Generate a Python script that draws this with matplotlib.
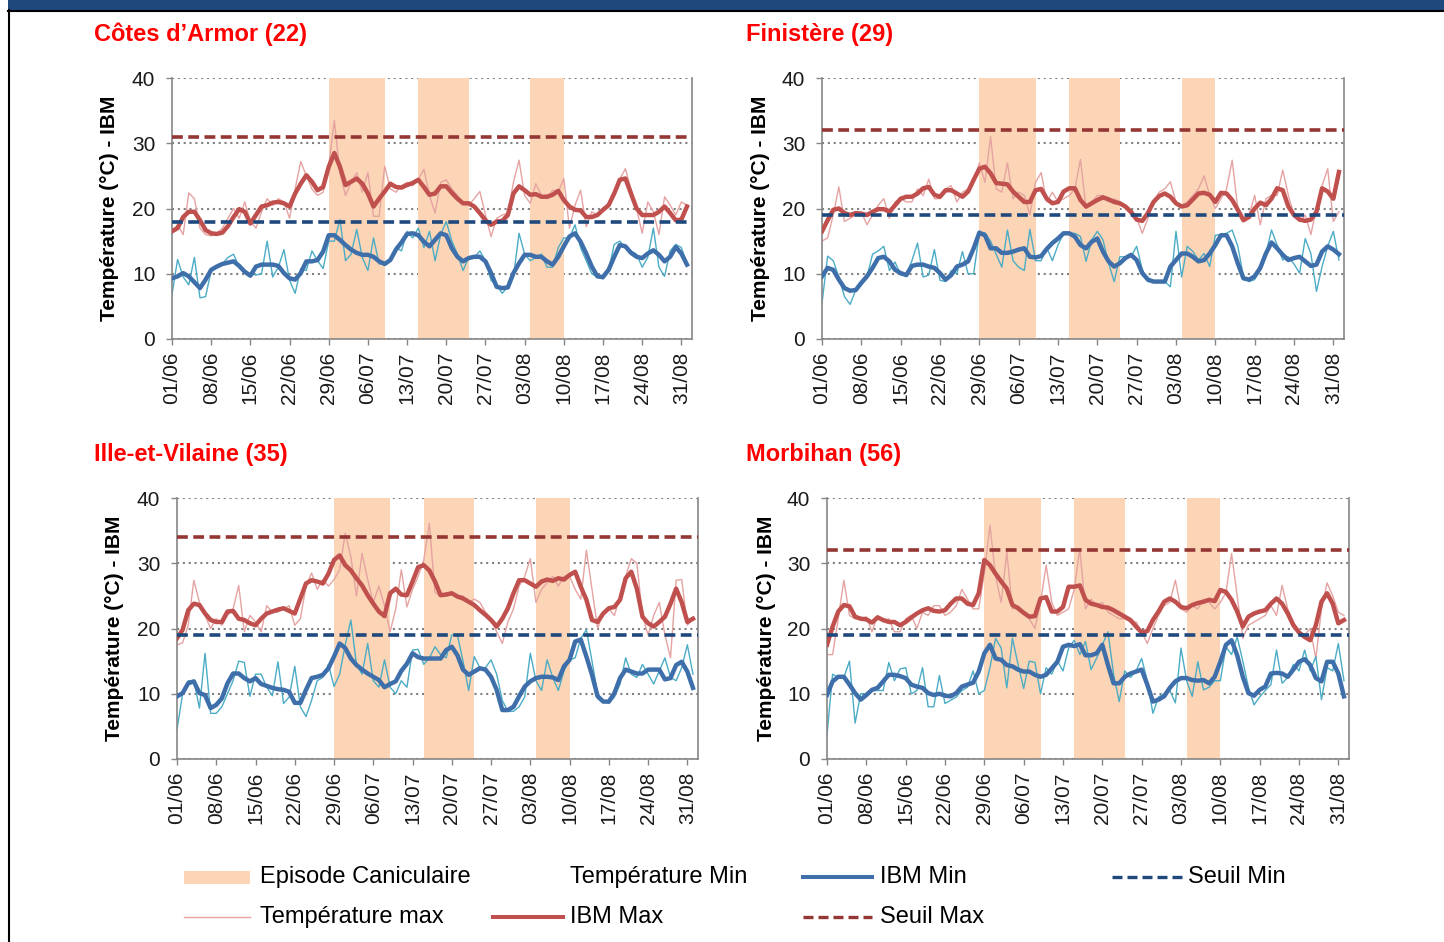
import numpy as np
import pandas as pd
import matplotlib
matplotlib.use('Agg')
import matplotlib.pyplot as plt
from matplotlib.lines import Line2D
from matplotlib.patches import Rectangle

plt.rcParams['font.family'] = ['Liberation Sans', 'DejaVu Sans']

# daily series, 01/06 -> 02/09
dates = pd.date_range('2006-06-01', periods=93, freq='D')

# episodes caniculaires (day index from 01/06)
episode_start = [28, 44, 64]
episode_end = [38, 53, 70]

# --- Cotes d'Armor (22)
p22_seuil_min, p22_seuil_max = 18, 31
p22_ibm_max = [16.5, 17.0, 18.7, 19.5, 19.5, 18.2, 16.7, 16.2, 16.1, 16.3,
               17.3, 18.7, 19.9, 19.5, 17.7, 19.0, 20.3, 20.5, 20.9, 21.0,
               20.8, 20.3, 22.3, 23.8, 25.1, 24.1, 22.8, 23.3, 26.4, 28.5,
               26.4, 23.6, 24.1, 24.6, 23.8, 22.3, 20.3, 21.5, 22.6, 23.8,
               23.3, 23.2, 23.6, 23.9, 24.4, 23.3, 22.1, 22.3, 23.4, 23.4,
               22.4, 21.5, 20.8, 20.8, 20.3, 19.3, 18.2, 17.5, 18.0, 18.1,
               19.0, 22.3, 23.4, 22.8, 22.1, 22.2, 21.8, 21.8, 22.1, 22.7,
               21.3, 20.3, 19.8, 19.7, 18.7, 18.7, 19.0, 19.8, 20.5, 22.3,
               24.4, 24.6, 22.3, 20.0, 19.0, 19.0, 19.0, 19.5, 20.3, 19.3,
               18.2, 18.3, 20.3]
p22_tmax = [16.5, 17.5, 16.0, 22.4, 21.5, 17.0, 16.0, 15.8, 16.2, 17.0,
            18.5, 20.0, 18.5, 21.0, 18.0, 17.0, 19.5, 21.5, 20.5, 21.5,
            21.0, 18.5, 23.0, 27.2, 25.0, 23.0, 22.0, 22.5, 26.5, 33.5,
            25.5, 22.0, 24.0, 25.5, 22.5, 25.5, 18.8, 18.8, 26.5, 23.0,
            22.5, 23.5, 24.0, 23.5, 24.5, 26.0, 22.0, 19.3, 24.0, 24.4,
            23.0, 22.0, 21.0, 20.5, 21.5, 22.6, 19.0, 15.7, 18.5, 19.0,
            19.3, 24.0, 27.4, 22.0, 20.8, 23.8, 22.0, 21.5, 22.8, 22.5,
            24.6, 17.0, 20.5, 22.8, 17.2, 19.5, 19.0, 20.0, 20.5, 22.5,
            24.5, 26.1, 23.0, 20.0, 16.2, 21.0, 19.5, 16.0, 21.8, 20.5,
            19.0, 21.0, 20.5]
p22_ibm_min = [9.3, 9.6, 10.1, 9.6, 8.7, 7.8, 9.1, 10.6, 11.1, 11.5,
               11.7, 11.9, 11.2, 10.3, 9.7, 11.1, 11.4, 11.4, 11.4, 11.2,
               10.1, 9.3, 9.1, 10.1, 11.9, 11.9, 12.1, 13.4, 15.9, 15.9,
               15.2, 14.4, 13.7, 13.2, 12.9, 12.9, 12.6, 11.9, 11.5, 12.1,
               13.7, 14.8, 16.1, 16.2, 15.9, 14.9, 14.2, 15.2, 16.2, 15.9,
               13.9, 12.6, 11.9, 12.4, 12.6, 12.6, 11.9, 10.1, 8.0, 7.8,
               7.9, 10.1, 11.6, 12.9, 12.9, 12.6, 12.6, 11.9, 11.4, 12.6,
               14.2, 15.7, 16.2, 14.9, 13.1, 11.1, 9.6, 9.5, 10.6, 12.6,
               14.4, 14.2, 13.2, 12.6, 12.4, 13.1, 13.6, 12.9, 11.9, 12.6,
               14.1, 13.1, 11.4]
p22_tmin = [6.8, 12.2, 9.5, 8.3, 12.5, 6.3, 6.5, 10.5, 11.0, 11.5,
            12.5, 13.0, 11.0, 10.5, 10.0, 9.8, 10.0, 15.0, 9.5, 11.0,
            13.7, 9.0, 7.0, 10.8, 10.5, 13.5, 12.0, 10.8, 15.0, 15.0,
            18.3, 12.0, 13.0, 16.8, 12.5, 10.5, 15.5, 11.5, 11.5, 12.0,
            14.0, 13.5, 16.5, 15.5, 17.0, 14.0, 16.5, 12.0, 16.0, 18.0,
            15.0, 13.0, 10.5, 12.5, 12.5, 13.5, 12.0, 9.0, 8.2, 7.0,
            8.0, 9.5, 16.2, 13.0, 12.0, 12.5, 13.0, 11.0, 11.0, 14.0,
            15.5, 15.5, 17.5, 14.0, 12.0, 10.0, 9.5, 9.2, 10.5, 14.5,
            15.0, 14.0, 13.5, 13.0, 11.0, 12.5, 17.0, 11.0, 9.6, 13.5,
            14.5, 14.0, 11.5]

# --- Finistere (29)
p29_seuil_min, p29_seuil_max = 19, 32
p29_ibm_max = [16.5, 18.2, 19.8, 20.0, 19.3, 19.0, 19.3, 19.2, 19.0, 19.5,
               19.9, 19.9, 19.5, 20.5, 21.5, 21.8, 21.8, 22.3, 23.1, 23.3,
               22.1, 21.8, 22.8, 22.8, 22.3, 21.8, 22.6, 24.4, 26.1, 26.4,
               25.4, 23.9, 23.8, 23.7, 22.6, 21.8, 21.0, 21.0, 22.8, 23.0,
               21.5, 20.8, 21.0, 22.6, 23.1, 23.1, 21.3, 20.3, 20.8, 21.3,
               21.7, 21.4, 21.0, 20.8, 20.3, 19.5, 18.3, 18.1, 19.3, 21.0,
               21.9, 22.3, 21.8, 20.8, 20.3, 20.5, 21.4, 22.3, 22.4, 22.1,
               21.0, 22.4, 22.3, 21.3, 19.8, 18.2, 18.7, 20.0, 20.9, 20.5,
               21.5, 23.1, 22.8, 20.3, 19.0, 18.3, 18.1, 18.3, 19.5, 23.1,
               22.6, 21.5, 25.6]
p29_tmax = [15.0, 15.5, 19.0, 23.3, 18.0, 18.5, 19.0, 19.5, 17.5, 19.0,
            20.5, 21.5, 18.5, 21.0, 21.5, 21.0, 21.0, 23.0, 22.0, 24.5,
            21.5, 21.5, 23.0, 23.5, 21.0, 22.5, 23.0, 24.0, 27.0, 24.0,
            31.0, 23.0, 22.5, 27.0, 21.5, 22.5, 22.0, 19.0, 24.0, 25.5,
            21.0, 22.5, 21.0, 21.5, 22.0, 23.0, 27.5, 20.0, 21.0, 22.0,
            22.0, 21.0, 21.5, 21.0, 20.0, 19.0, 18.5, 16.2, 18.5, 21.0,
            22.5, 23.0, 24.1, 21.0, 20.5, 21.0, 22.0, 23.0, 25.0, 22.0,
            20.0, 21.5, 23.0, 27.4, 20.0, 18.0, 19.0, 22.0, 17.5, 21.5,
            22.0, 22.0, 25.9, 22.0, 19.0, 18.0, 19.0, 16.0, 20.0, 23.5,
            26.1, 18.0, 19.5]
p29_ibm_min = [9.6, 10.9, 10.6, 9.1, 7.8, 7.4, 7.5, 8.6, 9.6, 10.9,
               12.4, 12.6, 11.9, 10.6, 10.1, 9.8, 11.2, 11.4, 11.4, 11.1,
               10.9, 10.1, 9.1, 9.8, 11.1, 11.4, 11.9, 13.9, 16.3, 15.9,
               13.9, 13.9, 13.2, 13.2, 13.4, 13.7, 13.9, 12.6, 12.5, 12.7,
               13.8, 14.7, 15.4, 16.2, 16.2, 15.7, 14.4, 13.9, 14.9, 15.4,
               13.4, 11.9, 11.1, 11.6, 12.4, 12.9, 12.1, 10.1, 9.1, 8.8,
               8.8, 8.8, 11.1, 12.1, 13.1, 13.1, 12.6, 11.9, 12.1, 13.1,
               14.4, 15.9, 15.9, 14.2, 11.6, 9.3, 9.1, 9.6, 10.9, 13.1,
               14.8, 13.9, 12.9, 12.1, 12.4, 12.6, 11.9, 11.2, 11.4, 13.4,
               14.2, 13.7, 13.0]
p29_tmin = [5.5, 12.7, 12.0, 9.5, 6.5, 5.3, 7.5, 8.5, 9.5, 13.0,
            13.5, 14.2, 10.5, 11.8, 9.8, 9.8, 12.0, 14.7, 9.5, 9.8,
            13.7, 9.0, 8.8, 10.5, 10.0, 13.4, 10.0, 10.0, 16.3, 16.3,
            15.0, 13.0, 11.0, 16.7, 12.0, 11.0, 10.5, 16.8, 12.0, 12.0,
            14.0, 12.0, 14.4, 16.2, 16.2, 16.2, 15.7, 11.9, 15.2, 16.5,
            15.2, 11.6, 8.8, 12.6, 12.6, 12.6, 14.2, 10.6, 8.8, 8.8,
            8.8, 8.8, 8.0, 16.5, 9.5, 14.2, 13.4, 12.1, 13.1, 11.1,
            15.9, 16.0, 16.2, 16.7, 14.2, 9.6, 8.8, 9.1, 11.0, 13.1,
            16.7, 14.4, 12.1, 12.6, 11.5, 10.1, 15.4, 13.1, 7.3, 11.1,
            14.2, 16.5, 12.1]

# --- Ille-et-Vilaine (35)
p35_seuil_min, p35_seuil_max = 19, 34
p35_ibm_max = [18.5, 19.8, 22.8, 23.8, 23.6, 22.3, 21.3, 21.0, 21.0, 22.6,
               22.7, 21.5, 21.3, 20.8, 20.5, 21.5, 22.3, 22.6, 22.9, 23.1,
               22.7, 22.3, 24.6, 26.9, 27.4, 27.2, 26.9, 28.4, 30.5, 31.2,
               29.7, 28.9, 27.7, 26.6, 25.1, 23.8, 22.6, 21.9, 25.4, 26.1,
               25.2, 25.1, 27.2, 29.4, 29.7, 28.9, 27.2, 25.1, 25.2, 25.4,
               24.9, 24.6, 24.1, 23.6, 22.8, 22.1, 21.3, 20.3, 21.5, 23.1,
               25.4, 27.4, 27.4, 26.9, 26.4, 27.2, 27.5, 27.3, 27.7, 27.5,
               28.2, 28.7, 26.4, 24.4, 21.3, 21.0, 22.3, 23.1, 23.3, 24.4,
               27.7, 28.7, 26.1, 21.8, 20.8, 20.3, 21.0, 21.8, 23.8, 26.1,
               24.0, 21.0, 21.5]
p35_tmax = [17.5, 17.8, 20.5, 27.4, 24.0, 22.0, 20.0, 21.5, 20.5, 22.0,
            23.0, 26.6, 19.5, 22.0, 21.0, 19.5, 23.5, 22.5, 22.5, 23.0,
            23.5, 20.5, 21.5, 26.5, 28.5, 26.0, 27.5, 26.5, 27.5, 29.0,
            34.6, 31.0, 25.0, 31.5, 27.5, 24.0, 26.5, 23.5, 19.5, 23.0,
            29.0, 23.3, 26.0, 28.0, 30.5, 36.1, 25.5, 25.0, 25.5, 25.5,
            25.0, 25.0, 24.0, 24.5, 24.0, 22.5, 21.5, 19.5, 17.7, 21.0,
            23.0, 26.5, 28.0, 30.7, 24.0, 26.0, 27.0, 28.0, 26.5, 28.0,
            28.0, 26.0, 24.5, 32.0, 26.0, 20.0, 22.5, 23.0, 22.0, 25.0,
            28.0, 30.7, 30.0, 22.0, 19.0, 22.0, 24.0, 19.0, 15.5, 27.4,
            27.5, 20.5, 21.5]
p35_ibm_min = [9.6, 10.1, 11.6, 11.9, 10.1, 9.8, 7.8, 8.3, 9.3, 11.6,
               13.1, 13.1, 12.4, 11.9, 12.4, 11.5, 11.2, 10.9, 10.7, 10.6,
               10.3, 8.6, 8.6, 10.6, 12.4, 12.6, 12.9, 13.9, 15.7, 17.7,
               17.0, 15.4, 14.4, 13.7, 13.1, 12.6, 12.1, 11.0, 11.5, 11.9,
               13.5, 14.6, 16.2, 15.6, 15.4, 15.4, 15.4, 15.4, 16.7, 17.2,
               15.9, 13.7, 12.9, 13.4, 13.9, 13.7, 12.6, 10.6, 7.5, 7.5,
               8.0, 9.6, 11.1, 11.9, 12.4, 12.6, 12.6, 12.5, 12.1, 14.2,
               15.2, 18.0, 18.3, 15.7, 12.9, 9.6, 8.8, 8.8, 10.1, 12.4,
               13.7, 13.4, 13.1, 13.1, 13.7, 13.7, 13.7, 12.2, 12.4, 14.4,
               14.9, 13.4, 10.9]
p35_tmin = [4.5, 10.0, 12.0, 12.0, 7.8, 16.2, 7.0, 7.0, 8.0, 10.0,
            12.0, 15.0, 14.8, 9.6, 13.0, 13.0, 11.0, 9.7, 14.9, 8.5,
            9.5, 14.2, 8.0, 6.5, 9.0, 12.0, 12.5, 14.5, 11.1, 13.0,
            17.5, 21.3, 14.5, 13.0, 17.7, 12.0, 11.0, 15.2, 11.0, 10.0,
            12.0, 11.0, 16.7, 16.8, 14.5, 15.5, 17.2, 16.0, 15.5, 19.0,
            19.0, 15.0, 10.5, 15.7, 14.0, 14.0, 15.2, 13.0, 9.0, 7.3,
            7.3, 8.0, 9.5, 16.2, 12.0, 10.5, 15.2, 12.5, 10.5, 13.5,
            15.2, 15.5, 18.5, 19.8, 15.0, 10.0, 9.0, 8.5, 9.5, 11.5,
            15.5, 13.0, 12.5, 14.5, 13.0, 11.5, 13.5, 15.5, 12.5, 12.0,
            14.0, 17.5, 13.0]

# --- Morbihan (56)
p56_seuil_min, p56_seuil_max = 19, 32
p56_ibm_max = [17.5, 20.3, 22.6, 23.6, 23.4, 21.8, 21.5, 21.4, 20.9, 21.7,
               21.3, 21.0, 21.0, 20.5, 21.0, 21.7, 22.3, 22.8, 23.1, 22.7,
               22.6, 22.8, 23.8, 24.6, 24.6, 23.8, 23.6, 25.4, 30.5, 29.7,
               28.4, 27.2, 26.1, 23.6, 23.1, 22.4, 21.8, 21.9, 24.6, 24.8,
               22.6, 22.6, 23.3, 26.4, 26.4, 26.6, 24.4, 23.8, 23.6, 23.3,
               23.2, 22.8, 22.3, 21.8, 21.3, 20.3, 19.4, 19.6, 21.3, 22.6,
               24.1, 24.6, 24.1, 23.3, 23.1, 23.6, 23.9, 24.1, 24.4, 24.2,
               25.9, 25.6, 24.4, 22.6, 20.3, 21.8, 22.3, 22.6, 22.8, 23.8,
               24.6, 23.8, 22.3, 20.5, 19.4, 18.7, 18.2, 20.5, 24.1, 25.4,
               23.8, 20.8, 21.3]
p56_tmax = [16.0, 16.0, 21.5, 27.4, 22.0, 21.5, 21.5, 21.8, 19.5, 22.0,
            21.0, 21.5, 19.5, 19.5, 21.5, 22.0, 20.0, 22.5, 22.0, 23.5,
            23.5, 22.0, 22.5, 23.5, 26.0, 24.5, 23.0, 23.0, 28.5, 35.8,
            28.0, 24.0, 31.7, 23.0, 23.5, 22.5, 21.5, 20.0, 24.0, 29.7,
            24.0, 22.0, 22.5, 23.0, 26.0, 32.2, 23.0, 24.5, 23.5, 24.0,
            22.5, 22.0, 21.5, 21.5, 21.0, 21.0, 19.5, 17.7, 20.0, 22.0,
            23.5, 24.0, 27.4, 23.0, 22.5, 23.5, 23.0, 24.5, 24.0, 23.0,
            24.0, 25.5, 31.5, 25.0, 18.5, 20.5, 21.0, 21.5, 22.0, 23.5,
            22.0, 26.6, 23.0, 21.0, 19.5, 19.0, 20.0, 15.4, 23.0, 27.0,
            25.0, 22.5, 22.0]
p56_ibm_min = [9.8, 11.9, 12.6, 12.6, 11.4, 10.1, 9.1, 9.8, 10.6, 10.9,
               11.9, 12.9, 12.9, 12.7, 12.4, 11.4, 11.1, 10.9, 10.1, 9.8,
               10.0, 9.7, 9.6, 10.1, 11.1, 11.4, 11.7, 13.4, 16.2, 17.5,
               15.4, 15.2, 14.4, 14.2, 13.7, 13.4, 13.4, 12.9, 12.6, 12.9,
               13.9, 14.9, 17.2, 17.5, 17.3, 17.6, 15.9, 15.9, 16.2, 17.5,
               14.4, 11.6, 11.6, 12.6, 13.1, 13.4, 13.7, 11.4, 8.8, 9.1,
               9.6, 10.9, 11.9, 12.4, 12.4, 12.1, 12.0, 12.1, 11.6, 12.6,
               14.9, 17.5, 18.2, 15.9, 12.6, 10.1, 9.7, 10.6, 11.1, 13.1,
               13.2, 13.1, 12.6, 13.7, 14.9, 15.3, 14.4, 12.4, 11.9, 14.9,
               14.9, 13.1, 9.6]
p56_tmin = [3.7, 13.0, 12.5, 12.5, 15.0, 5.5, 10.0, 10.0, 10.5, 10.5,
            10.5, 14.8, 12.0, 13.8, 14.0, 10.0, 10.5, 14.0, 8.0, 8.0,
            12.8, 8.5, 9.0, 9.5, 10.5, 11.0, 13.5, 10.0, 10.5, 14.0,
            18.5, 17.0, 10.9, 18.5, 14.5, 10.8, 15.0, 14.8, 10.0, 14.0,
            13.0, 15.0, 13.5, 17.0, 18.2, 16.0, 18.0, 13.7, 15.5, 17.5,
            19.5, 13.0, 8.8, 13.5, 12.5, 13.5, 15.4, 12.0, 7.0, 9.5,
            10.0, 10.5, 8.6, 17.0, 12.0, 9.6, 14.9, 10.6, 11.0, 12.0,
            12.0, 17.2, 16.0, 18.7, 15.0, 11.0, 8.3, 9.5, 10.5, 11.4,
            16.7, 11.6, 12.5, 14.5, 13.5, 16.7, 13.5, 15.7, 9.1, 14.0,
            13.5, 17.7, 12.0]

titles = ['C\u00f4tes d\u2019Armor (22)', 'Finist\u00e8re (29)',
          'Ille-et-Vilaine (35)', 'Morbihan (56)']

# colours
c_episode = '#FBD5B5'
c_tmax = '#E5A3A2'
c_ibm_max = '#C0504D'
c_tmin = '#4BACC6'
c_ibm_min = '#3F6FAA'
c_seuil_max = '#943634'
c_seuil_min = '#1F497D'
dash = (0, (3.0, 1.5))

W, H = 1444, 942
fig = plt.figure(figsize=(W / 100, H / 100), dpi=100)


def px_axes(l, t, r, b):
    return fig.add_axes([l / W, 1 - b / H, (r - l) / W, (b - t) / H])


panels = [
    (p22_tmin, p22_ibm_min, p22_tmax, p22_ibm_max, p22_seuil_min, p22_seuil_max),
    (p29_tmin, p29_ibm_min, p29_tmax, p29_ibm_max, p29_seuil_min, p29_seuil_max),
    (p35_tmin, p35_ibm_min, p35_tmax, p35_ibm_max, p35_seuil_min, p35_seuil_max),
    (p56_tmin, p56_ibm_min, p56_tmax, p56_ibm_max, p56_seuil_min, p56_seuil_max),
]
# pixel boxes: left, top, right, bottom
boxes = [(172, 78, 692, 339), (822, 78, 1344, 339),
         (177, 498, 698, 759), (827, 498, 1349, 759)]
title_pos = [(94, 34), (746, 34), (94, 454), (746, 454)]
ylab_x = [110, 761, 115, 766]

x = np.arange(len(dates))
tick_idx = x[::7][:14]
tick_lab = [d.strftime('%d/%m') for d in dates[tick_idx]]

for i, (tmin, ibm_min, tmax, ibm_max, smin, smax) in enumerate(panels):
    l, t, r, b = boxes[i]
    ax = px_axes(l, t, r, b)
    ax.set_xlim(0, 92.9)
    ax.set_ylim(0, 40)
    ax.set_yticks([0, 10, 20, 30, 40])
    ax.yaxis.grid(True, linestyle=(0, (1.0, 1.8)), color='#808080', lw=1.5, zorder=0)
    ax.set_axisbelow(True)
    for s, e in zip(episode_start, episode_end):
        ax.axvspan(s, e, color=c_episode, lw=0, zorder=1)
    ax.plot(x, tmax, color=c_tmax, lw=1.0, zorder=2)
    ax.plot(x, tmin, color=c_tmin, lw=1.0, zorder=2)
    ax.plot(x, ibm_max, color=c_ibm_max, lw=3.2, zorder=3)
    ax.plot(x, ibm_min, color=c_ibm_min, lw=3.2, zorder=3)
    ax.axhline(smax, color=c_seuil_max, lw=2.6, linestyle=dash, zorder=4)
    ax.axhline(smin, color=c_seuil_min, lw=2.6, linestyle=dash, zorder=4)

    ax.set_xticks(tick_idx)
    ax.set_xticklabels(tick_lab, rotation=90)
    ax.tick_params(axis='both', labelsize=15, length=4, width=1,
                   color='#868686', labelcolor='#1a1a1a')
    ax.tick_params(axis='y', pad=8)
    ax.tick_params(axis='x', pad=5)
    ax.spines['top'].set_visible(False)
    for sp in ['left', 'bottom', 'right']:
        ax.spines[sp].set_color('#868686')
        ax.spines[sp].set_linewidth(1.2)

    tx, ty = title_pos[i]
    fig.text(tx / W, 1 - ty / H, titles[i], color='#FF0000', fontsize=17,
             fontweight='bold', ha='left', va='center')
    fig.text(ylab_x[i] / W, 1 - ((t + b) / 2) / H, 'Temp\u00e9rature (\u00b0C) - IBM',
             rotation=90, fontsize=15, fontweight='bold', ha='center', va='center')

# frame decorations
fig.patches.append(Rectangle((8 / W, 1 - 10 / H), 1, 10 / H, transform=fig.transFigure,
                             color='#1F497D', lw=0))
fig.lines.append(Line2D([8 / W, 1], [1 - 10.5 / H, 1 - 10.5 / H], transform=fig.transFigure,
                        color='black', lw=1.5))
fig.lines.append(Line2D([8.5 / W, 8.5 / W], [0, 1 - 10 / H], transform=fig.transFigure,
                        color='black', lw=1.5))


# legend drawn by hand
def fx(px):
    return px / W


def fy(py):
    return 1 - py / H


leg_fs = 17
row1, row2 = 877, 917
fig.patches.append(Rectangle((fx(184), fy(884)), fx(250) - fx(184), 13 / H,
                             transform=fig.transFigure, color=c_episode, lw=0))
fig.text(fx(260), fy(row1), 'Episode Caniculaire', fontsize=leg_fs, va='center')
fig.text(fx(570), fy(row1), 'Temp\u00e9rature Min', fontsize=leg_fs, va='center')
fig.lines.append(Line2D([fx(803), fx(872)], [fy(row1), fy(row1)],
                        transform=fig.transFigure, color=c_ibm_min, lw=2.9))
fig.text(fx(880), fy(row1), 'IBM Min', fontsize=leg_fs, va='center')
fig.lines.append(Line2D([fx(1112), fx(1182)], [fy(row1), fy(row1)],
                        transform=fig.transFigure, color=c_seuil_min, lw=2.4,
                        linestyle=(0, (3.0, 1.5))))
fig.text(fx(1188), fy(row1), 'Seuil Min', fontsize=leg_fs, va='center')

fig.lines.append(Line2D([fx(184), fx(250)], [fy(row2), fy(row2)],
                        transform=fig.transFigure, color=c_tmax, lw=1.0))
fig.text(fx(260), fy(row2), 'Temp\u00e9rature max', fontsize=leg_fs, va='center')
fig.lines.append(Line2D([fx(493), fx(563)], [fy(row2), fy(row2)],
                        transform=fig.transFigure, color=c_ibm_max, lw=2.9))
fig.text(fx(570), fy(row2), 'IBM Max', fontsize=leg_fs, va='center')
fig.lines.append(Line2D([fx(803), fx(872)], [fy(row2), fy(row2)],
                        transform=fig.transFigure, color=c_seuil_max, lw=2.4,
                        linestyle=(0, (3.0, 1.5))))
fig.text(fx(880), fy(row2), 'Seuil Max', fontsize=leg_fs, va='center')

fig.savefig('out.png', dpi=100)
